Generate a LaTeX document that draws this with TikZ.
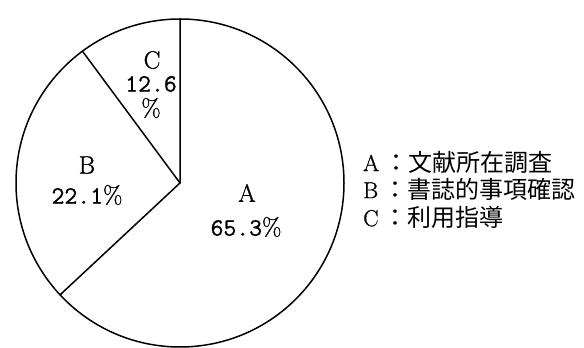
\documentclass[tikz,border=0pt]{standalone}
\usepackage{fontspec}
\newfontfamily\cjk{Noto Sans CJK JP}
\newfontfamily\numfont{Latin Modern Mono}[FakeBold=1]
\newfontfamily\latfont{Latin Modern Roman}[FakeBold=1]
\usepackage{tikz}
\tikzstyle{slice}=[draw=black, line width=1.5pt]
\tikzstyle{pct}=[font=\fontsize{25}{26}\selectfont\latfont, inner sep=0pt]
\tikzstyle{key}=[anchor=west, font=\fontsize{23}{24}\selectfont\latfont, inner sep=0pt]
\newcommand{\num}[1]{{\numfont #1}}

\begin{document}
\begin{tikzpicture}[x=1pt, y=1pt]
	\useasboundingbox (0,0) rectangle (584,348);
	% pie
	\coordinate (o) at (180,165);
	\coordinate (top) at ([shift={(90:164pt)}]o);
	\coordinate (cb) at ([shift={(126.5:164pt)}]o);
	\coordinate (ba) at ([shift={(223:164pt)}]o);
	\draw[slice] (o) circle[radius=164pt];
	\draw[slice] (top) -- (o) -- (ba);
	\draw[slice] (o) -- (cb);
	% slice labels
	\node (labC) at (152,288)[pct] {C};
	\node (valC) at (151,264)[pct] {\num{12.6}};
	\node (perC) at (151,240)[pct] {\%};
	\node (labB) at (87,183)[pct] {B};
	\node (valB) at (87,153)[pct] {\num{22.1}\%};
	\node (labA) at (247,155)[pct] {A};
	\node (valA) at (246,121)[pct] {\num{65.3}\%};
	% legend
	\node (keyA) at (363,186)[key] {A\hspace{5pt}{\cjk\fontsize{24}{24}\selectfont ：文献所在調査}};
	\node (keyB) at (363,159)[key] {B\hspace{5pt}{\cjk\fontsize{24}{24}\selectfont ：書誌的事項確認}};
	\node (keyC) at (363,131)[key] {C\hspace{5pt}{\cjk\fontsize{24}{24}\selectfont ：利用指導}};
\end{tikzpicture}
\end{document}
